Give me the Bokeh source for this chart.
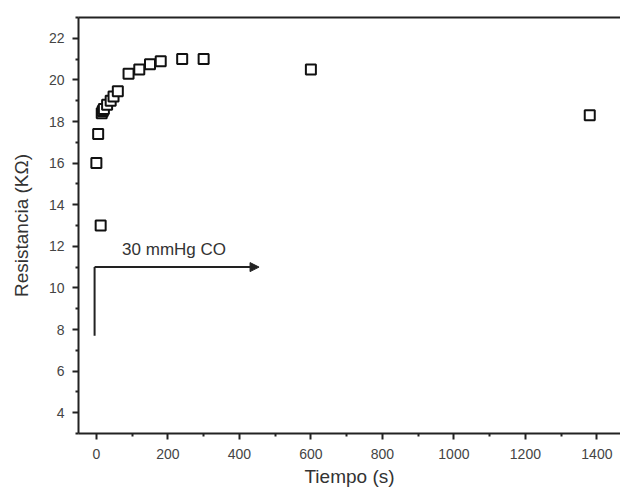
from bokeh.plotting import figure
from bokeh.models import LinearAxis, FixedTicker, Range1d, Arrow, NormalHead, Label, ColumnDataSource
from bokeh.embed import file_html
from bokeh.resources import INLINE

# Data
tiempo = [0, 5, 12, 15, 18, 21, 30, 40, 48, 60, 90, 120, 150, 180, 240, 300, 600, 1380]
resistencia = [16.0, 17.4, 13.0, 18.4, 18.5, 18.6, 18.8, 19.0, 19.2, 19.45,
               20.3, 20.5, 20.75, 20.9, 21.0, 21.0, 20.5, 18.3]

x_ticks = [0, 200, 400, 600, 800, 1000, 1200, 1400]
x_minor = [100, 300, 500, 700, 900, 1100, 1300]
y_ticks = [4, 6, 8, 10, 12, 14, 16, 18, 20, 22]
y_minor = [3, 5, 7, 9, 11, 13, 15, 17, 19, 21, 23]

# Annotation: "30 mmHg CO" exposure marker
marker_line_x = [-5, -5]
marker_line_y = [7.7, 11.0]
arrow_start = (-5, 11.0)
arrow_end = (455, 11.0)
annot_text = "30 mmHg CO"
annot_pos = (72, 11.85)

FONT = "Liberation Sans"

p = figure(width=620, height=494, output_backend="svg", toolbar_location=None,
           x_range=Range1d(-50, 1466), y_range=Range1d(3, 23),
           x_axis_location=None, y_axis_location=None,
           min_border_left=78, min_border_right=0, min_border_top=17, min_border_bottom=61)
p.outline_line_color = None
p.xgrid.visible = False
p.ygrid.visible = False
p.background_fill_color = "white"

def style_axis(ax, label):
    ax.axis_line_color = "#222222"
    ax.axis_line_width = 2
    ax.major_tick_line_color = "#222222"
    ax.major_tick_line_width = 2
    ax.minor_tick_line_color = "#222222"
    ax.minor_tick_line_width = 2
    ax.major_tick_out = 6
    ax.major_tick_in = 0
    ax.minor_tick_out = 3
    ax.minor_tick_in = 0
    ax.major_label_text_font = FONT
    ax.major_label_text_font_size = "14px"
    ax.major_label_text_color = "#444444"
    ax.axis_label = label
    ax.axis_label_text_font = FONT
    ax.axis_label_text_font_size = "19px"
    ax.axis_label_text_font_style = "normal"
    ax.axis_label_text_color = "#333333"

xaxis = LinearAxis(ticker=FixedTicker(ticks=x_ticks, minor_ticks=x_minor))
style_axis(xaxis, "Tiempo (s)")
xaxis.major_label_standoff = 9
xaxis.axis_label_standoff = 4
p.add_layout(xaxis, "below")

yaxis = LinearAxis(ticker=FixedTicker(ticks=y_ticks, minor_ticks=y_minor))
style_axis(yaxis, "Resistancia (KΩ)")
yaxis.major_label_standoff = 8
yaxis.axis_label_standoff = 14
p.add_layout(yaxis, "left")

top = LinearAxis(ticker=FixedTicker(ticks=[]))
top.axis_line_color = "#222222"
top.axis_line_width = 2
top.major_tick_line_color = None
top.minor_tick_line_color = None
top.major_label_text_font_size = "0px"
p.add_layout(top, "above")

src = ColumnDataSource(data=dict(t=tiempo, r=resistencia))
p.scatter("t", "r", source=src, marker="square", size=10, fill_color="white",
          line_color="#111111", line_width=2)

p.line(marker_line_x, marker_line_y, line_color="#222222", line_width=2)
p.add_layout(Arrow(end=NormalHead(size=9, fill_color="#222222", line_color="#222222"),
                   x_start=arrow_start[0], y_start=arrow_start[1],
                   x_end=arrow_end[0], y_end=arrow_end[1],
                   line_color="#222222", line_width=2))
p.add_layout(Label(x=annot_pos[0], y=annot_pos[1], text=annot_text,
                   text_font=FONT, text_font_size="17px", text_color="#333333",
                   text_baseline="middle"))

open("out.html", "w").write(file_html(p, INLINE))
